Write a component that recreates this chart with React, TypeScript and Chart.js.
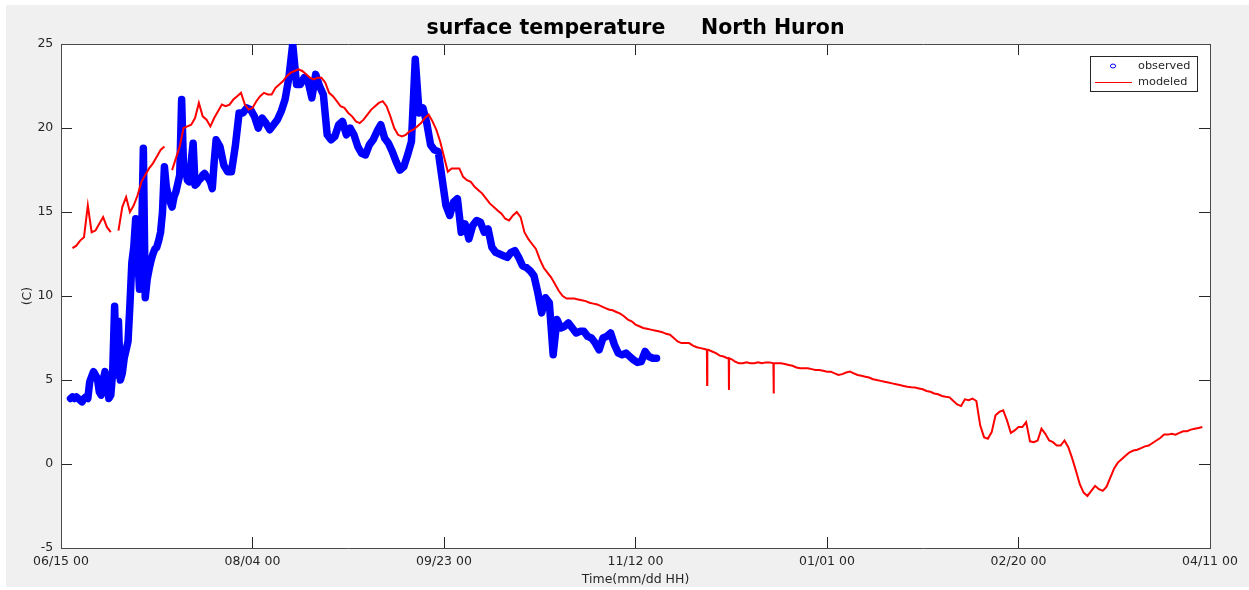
import React, { useEffect, useRef } from 'react';
import { Chart, registerables } from 'chart.js';

Chart.register(...registerables);

// ---------------- data ----------------
const chartTitle = 'surface temperature     North Huron';
const xAxisTitle = 'Time(mm/dd HH)';
const yAxisTitle = '(C)';

// x axis is "days since 06/15 00"; one tick label every 50 days
const xTickLabels = ['06/15 00', '08/04 00', '09/23 00', '11/12 00', '01/01 00', '02/20 00', '04/11 00'];
const xTickStepDays = 50;
const xMinDay = 0;
const xMaxDay = 300;

const yMin = -5;
const yMax = 25;
const yStep = 5;

// observed surface temperature: half-daily values from day 2.5 to day 40 ...
const observedEarlyStartDay = 2.5;
const observedEarlyStepDays = 0.5;
const observedEarlyTemps = [
  3.9, 4.0, 3.9, 4.0, 3.9, 3.8, 3.7, 3.9, 4.0, 3.9,
  4.9, 5.2, 5.5, 5.3, 5.1, 4.3, 4.1, 5.0, 5.5, 4.8,
  3.9, 4.1, 5.5, 9.4, 5.3, 8.5, 5.0, 5.4, 6.3, 6.8,
  7.3, 9.5, 12.0, 12.9, 14.6, 12.5, 10.4, 12.9, 18.8, 9.9,
  11.0, 11.6, 12.1, 12.5, 12.8, 12.9, 13.3, 13.8, 15.0, 17.7,
  16.5, 16.0, 15.6, 15.3, 15.9, 16.2, 16.7, 17.2, 21.7, 17.6,
  17.7, 16.9, 16.8, 18.0, 19.1, 16.6, 16.7, 16.9, 17.0, 17.2,
  17.3, 17.1, 17.0, 16.8, 16.4, 18.0,
];
// ... then daily values from day 40.5 to day 155.5
const observedLateStartDay = 40.5;
const observedLateStepDays = 1;
const observedLateTemps = [
  19.3, 18.9,
  17.8, 17.4, 17.4, 18.9, 20.9, 20.9, 21.2, 21.1, 20.7, 20.0,
  20.6, 20.3, 19.9, 20.2, 20.5, 21.0, 21.7, 23.0, 25.0, 22.6,
  22.6, 23.0, 22.8, 21.8, 23.2, 22.5, 22.0, 19.6, 19.3, 19.5,
  20.2, 20.4, 19.6, 20.0, 19.6, 18.9, 18.5, 18.4, 19.0, 19.3,
  19.8, 20.2, 19.4, 19.1, 18.6, 18.0, 17.5, 17.7, 18.4, 19.2,
  24.1, 20.9, 21.2, 20.3, 19.0, 18.7, 18.6, 17.0, 15.4, 14.8,
  15.6, 15.8, 13.8, 14.3, 13.4, 14.2, 14.5, 14.4, 13.8, 14.0,
  12.9, 12.6, 12.5, 12.4, 12.3, 12.6, 12.7, 12.3, 11.8, 11.7,
  11.5, 11.2, 10.2, 9.0, 9.9, 9.6, 6.5, 8.6, 8.1, 8.2,
  8.4, 8.1, 7.8, 7.9, 7.9, 7.6, 7.5, 7.2, 6.8, 7.5,
  7.6, 7.8, 7.1, 6.6, 6.5, 6.6, 6.4, 6.2, 6.05, 6.1,
  6.7, 6.4, 6.3, 6.3,
];

// modeled surface temperature, one value per day starting at day 3 (null = no output)
const modeledStartDay = 3;
const modeledStepDays = 1;
const modeledTemps = [
  12.85, 13.0, 13.3, 13.5, 15.4, 13.8, 13.9, 14.3, 14.7, 14.1,
  13.8, null, 13.9, 15.3, 15.9, 15.0, 15.4, 16.0, 16.8, 17.2,
  17.6, 17.9, 18.3, 18.7, 18.9, null, 17.5, 18.2, 18.9, 20.0,
  20.1, 20.2, 20.6, 21.5, 20.7, 20.5, 20.1, 20.6, 21.0, 21.4,
  21.3, 21.4, 21.7, 21.9, 22.1, 21.4, 21.1, 21.2, 21.6, 21.9,
  22.1, 22.0, 22.0, 22.4, 22.6, 22.8, 23.1, 23.3, 23.4, 23.5,
  23.4, 23.2, 23.0, 22.9, 23.0, 23.0, 22.7, 22.1, 21.9, 21.6,
  21.3, 21.2, 20.9, 20.7, 20.4, 20.3, 20.5, 20.8, 21.1, 21.3,
  21.5, 21.6, 21.3, 20.7, 20.0, 19.6, 19.5, 19.6, 19.8, 19.9,
  20.1, 20.3, 20.6, 20.8, 20.4, 19.9, 19.2, 18.3, 17.4, 17.6,
  17.6, 17.6, 17.1, 16.9, 16.8, 16.5, 16.3, 16.1, 15.8, 15.5,
  15.3, 15.1, 14.9, 14.6, 14.5, 14.8, 15.0, 14.7, 13.8, 13.4,
  13.1, 12.8, 12.2, 11.7, 11.4, 11.1, 10.7, 10.3, 10.0, 9.85,
  9.85, 9.85, 9.8, 9.75, 9.7, 9.6, 9.55, 9.5, 9.4, 9.3,
  9.2, 9.15, 9.05, 8.95, 8.8, 8.6, 8.5, 8.3, 8.2, 8.1,
  8.05, 8.0, 7.95, 7.9, 7.85, 7.75, 7.7, 7.5, 7.3, 7.2,
  7.2, 7.2, 7.05, 6.95, 6.9, 6.85, 6.8, 6.7, 6.6, 6.45,
  6.4, 6.3, 6.25, 6.1, 6.0, 6.0, 6.05, 6.0, 6.0, 6.05,
  6.0, 6.05, 6.05, 6.0, 6.0, 6.0, 5.95, 5.9, 5.85, 5.75,
  5.7, 5.7, 5.7, 5.65, 5.6, 5.6, 5.55, 5.5, 5.5, 5.4,
  5.3, 5.35, 5.45, 5.5, 5.4, 5.3, 5.25, 5.2, 5.15, 5.05,
  5.0, 4.95, 4.9, 4.85, 4.8, 4.75, 4.7, 4.65, 4.6, 4.57,
  4.55, 4.5, 4.45, 4.35, 4.3, 4.2, 4.15, 4.05, 4.0, 3.97,
  3.75, 3.55, 3.45, 3.85, 3.8, 3.9, 3.75, 2.3, 1.6, 1.5,
  1.9, 2.9, 3.1, 3.2, 2.6, 1.85, 2.0, 2.2, 2.2, 2.5,
  1.35, 1.3, 1.4, 2.1, 1.8, 1.4, 1.3, 1.1, 1.1, 1.4,
  1.0, 0.35, -0.4, -1.2, -1.7, -1.9, -1.6, -1.3, -1.5, -1.6,
  -1.35, -0.8, -0.25, 0.1, 0.3, 0.5, 0.7, 0.8, 0.85, 0.95,
  1.05, 1.1, 1.25, 1.4, 1.55, 1.75, 1.75, 1.8, 1.75, 1.85,
  1.95, 1.95, 2.05, 2.1, 2.15, 2.2,
];

// brief sharp dips in the modeled series (day, level around the dip, lowest value)
const modeledDipDays = [168.7, 174.4, 186.1];
const modeledDipTops = [6.8, 6.3, 6.0];
const modeledDipLows = [4.7, 4.4, 4.2];

const seriesLabels = ['observed', 'modeled'];
const seriesColors = ['#0000ff', '#ff0000'];

// ---------------- styling ----------------
const FONT = "'DejaVu Sans', 'Liberation Sans', sans-serif";
const TEXT = '#262626';
const AXIS = '#4a4a4a';
const TICK_LEN = -11;

const legendBoxPlugin = {
  id: 'legendBox',
  afterDatasetsDraw(chart: any) {
    const { ctx, chartArea } = chart;
    const w = 107;
    const h = 35;
    const left = Math.round(chartArea.right - 13 - w);
    const top = Math.round(chartArea.top + 12);
    ctx.save();
    ctx.fillStyle = '#ffffff';
    ctx.fillRect(left, top, w, h);
    ctx.strokeStyle = TEXT;
    ctx.lineWidth = 1;
    ctx.strokeRect(left + 0.5, top + 0.5, w, h);
    ctx.font = `11.3px ${FONT}`;
    ctx.textBaseline = 'middle';
    ctx.textAlign = 'left';
    chart.data.datasets.forEach((ds: any, i: number) => {
      const y = top + 10 + i * 16;
      ctx.strokeStyle = ds.borderColor;
      ctx.lineWidth = 1;
      if (ds.legendSymbol === 'circle') {
        ctx.beginPath();
        ctx.ellipse(left + 23, y, 2.6, 2, 0, 0, Math.PI * 2);
        ctx.stroke();
      } else {
        ctx.beginPath();
        ctx.moveTo(left + 5, y + 0.5);
        ctx.lineTo(left + 42, y + 0.5);
        ctx.stroke();
      }
      ctx.fillStyle = TEXT;
      ctx.fillText(ds.label, left + 48, y);
    });
    ctx.restore();
  },
};

const whiteAreaPlugin = {
  id: 'whiteArea',
  beforeDraw(chart: any) {
    const { ctx, chartArea } = chart;
    ctx.save();
    ctx.fillStyle = '#ffffff';
    ctx.fillRect(chartArea.left, chartArea.top, chartArea.right - chartArea.left, chartArea.bottom - chartArea.top);
    ctx.restore();
  },
};

export default function App() {
  const canvasRef = useRef<HTMLCanvasElement | null>(null);

  useEffect(() => {
    const canvas = canvasRef.current;
    if (!canvas) return;

    const observedPoints = [
      ...observedEarlyTemps.map((v, i) => ({ x: observedEarlyStartDay + i * observedEarlyStepDays, y: v })),
      ...observedLateTemps.map((v, i) => ({ x: observedLateStartDay + i * observedLateStepDays, y: v })),
    ];
    const modeledPoints: { x: number; y: number | null }[] = modeledTemps.map((v, i) => ({
      x: modeledStartDay + i * modeledStepDays,
      y: v,
    }));
    modeledDipDays.forEach((day, i) => {
      modeledPoints.push({ x: day - 0.06, y: modeledDipTops[i] });
      modeledPoints.push({ x: day, y: modeledDipLows[i] });
      modeledPoints.push({ x: day + 0.06, y: modeledDipTops[i] });
    });
    modeledPoints.sort((a, b) => a.x - b.x);

    const tickFont = { family: FONT, size: 12.5 };

    const chart = new Chart(canvas, {
      type: 'line',
      data: {
        datasets: [
          {
            label: seriesLabels[0],
            data: observedPoints,
            borderColor: seriesColors[0],
            backgroundColor: seriesColors[0],
            borderWidth: 7.5,
            borderJoinStyle: 'round',
            borderCapStyle: 'round',
            pointRadius: 0,
            pointHoverRadius: 0,
            tension: 0,
            clip: 0,
            order: 1,
            legendSymbol: 'circle',
          } as any,
          {
            label: seriesLabels[1],
            data: modeledPoints,
            borderColor: seriesColors[1],
            backgroundColor: seriesColors[1],
            borderWidth: 2,
            pointRadius: 0,
            pointHoverRadius: 0,
            tension: 0,
            spanGaps: false,
            clip: 0,
            order: 0,
            legendSymbol: 'line',
          } as any,
        ],
      },
      options: {
        animation: false,
        responsive: false,
        devicePixelRatio: 1,
        events: [],
        layout: { autoPadding: false, padding: { left: 0, right: 39, top: 0, bottom: 0 } },
        plugins: {
          legend: { display: false },
          tooltip: { enabled: false },
          title: {
            display: true,
            text: chartTitle,
            fullSize: false,
            color: '#000000',
            font: { family: FONT, size: 20.5, weight: 'bold' },
            padding: { top: 11.5, bottom: 3 },
          },
        },
        scales: {
          x: {
            type: 'linear',
            position: 'bottom',
            min: xMinDay,
            max: xMaxDay,
            afterFit: (s: any) => {
              s.height = 39;
              s.paddingLeft = 0;
              s.paddingRight = 0;
            },
            ticks: {
              stepSize: xTickStepDays,
              autoSkip: false,
              maxRotation: 0,
              minRotation: 0,
              padding: 17.5,
              color: TEXT,
              font: tickFont,
              callback: (value: any) => xTickLabels[Math.round((Number(value) - xMinDay) / xTickStepDays)] ?? '',
            },
            grid: { drawOnChartArea: false, tickLength: TICK_LEN, tickColor: TEXT, tickWidth: 1 },
            border: { color: AXIS, width: 1 },
            title: { display: true, text: xAxisTitle, color: TEXT, font: tickFont, padding: { top: 0, bottom: 0 } },
          },
          xTop: {
            type: 'linear',
            position: 'top',
            min: xMinDay,
            max: xMaxDay,
            afterFit: (s: any) => {
              s.height = 0;
              s.paddingLeft = 0;
              s.paddingRight = 0;
            },
            ticks: { stepSize: xTickStepDays, display: false },
            grid: { drawOnChartArea: false, tickLength: TICK_LEN, tickColor: TEXT, tickWidth: 1 },
            border: { color: AXIS, width: 1 },
          },
          y: {
            type: 'linear',
            position: 'left',
            min: yMin,
            max: yMax,
            afterFit: (s: any) => {
              s.width = 55;
            },
            ticks: { stepSize: yStep, padding: 18.7, color: TEXT, font: tickFont },
            grid: { drawOnChartArea: false, tickLength: TICK_LEN, tickColor: TEXT, tickWidth: 1 },
            border: { color: AXIS, width: 1 },
            title: { display: true, text: yAxisTitle, color: TEXT, font: tickFont, padding: { top: 14, bottom: 0 } },
          },
          yRight: {
            type: 'linear',
            position: 'right',
            min: yMin,
            max: yMax,
            afterFit: (s: any) => {
              s.width = 0;
            },
            ticks: { stepSize: yStep, display: false },
            grid: { drawOnChartArea: false, tickLength: TICK_LEN, tickColor: TEXT, tickWidth: 1 },
            border: { color: AXIS, width: 1 },
          },
        },
      } as any,
      plugins: [whiteAreaPlugin, legendBoxPlugin],
    });

    return () => {
      chart.destroy();
    };
  }, []);

  return (
    <div
      style={{
        position: 'absolute',
        left: 6,
        top: 5,
        width: 1243,
        height: 582,
        background: '#f0f0f0',
      }}
    >
      <canvas ref={canvasRef} width={1243} height={582} style={{ display: 'block', width: 1243, height: 582 }} />
    </div>
  );
}
